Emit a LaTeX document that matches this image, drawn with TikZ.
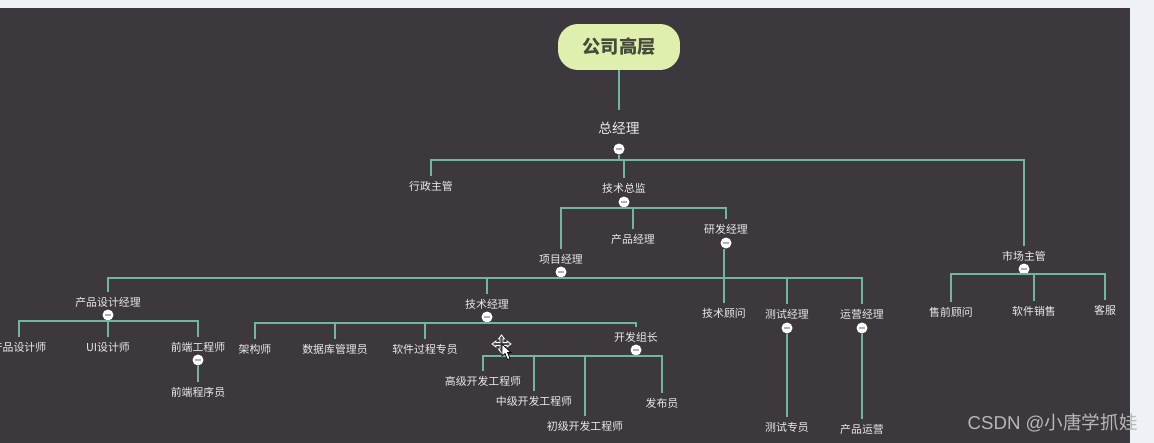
\documentclass[tikz,border=0pt]{standalone}
\usepackage{fontspec}
\setmainfont{Noto Sans CJK SC}
\newfontfamily\markfont{Liberation Sans}
\usetikzlibrary{arrows.meta,positioning}
\definecolor{pagebg}{HTML}{3C383E}
\definecolor{pageedge}{HTML}{EEF2F7}
\definecolor{rootfill}{HTML}{DFF0AE}
\definecolor{roottext}{HTML}{454C3C}
\definecolor{linkcol}{HTML}{71B6A2}
\tikzset{
    post/.style={text=white!92!black,font=\fontsize{6.2pt}{7pt}\selectfont,inner sep=0pt,minimum height=0.4cm},
    toppost/.style={post,font=\fontsize{7.8pt}{9pt}\selectfont,minimum height=0.72cm},
    btn/.style={circle,fill=white,inner sep=0pt,minimum size=0.22cm,
        path picture={\draw[gray!60,line width=0.6pt] ([xshift=0.05cm]path picture bounding box.west) -- ([xshift=-0.05cm]path picture bounding box.east);}},
    link/.style={draw=linkcol,line width=1.2pt},
}

\begin{document}
\begin{tikzpicture}[x=0.02cm,y=-0.02cm]
        \useasboundingbox (0,0) rectangle (1154,443);
        \fill[pageedge] (0,0) rectangle (1154,443);
        \fill[pagebg] (0,8) rectangle (1130,443);

        \node[fill=rootfill,rounded corners=0.4cm,minimum width=2.44cm,minimum height=0.92cm,text=roottext,font=\fontsize{10.4pt}{12pt}\bfseries\selectfont] (root) at (619,47) {公司高层};

        \node[toppost] (zjl) at (619,128) {总经理};
        \node[btn] (zjlbtn) at (619,149) {};

        \node[post] (xzzg) at (431,186) {行政主管};
        \node[post] (jszj) at (624,188) {技术总监};
        \node[btn] (jszjbtn) at (624,202) {};
        \node[post] (sczg) at (1024,256) {市场主管};
        \node[btn] (sczgbtn) at (1024,269) {};

        \node[post] (xmjl) at (561,259) {项目经理};
        \node[btn] (xmjlbtn) at (561,272) {};
        \node[post] (cpjl) at (633,239) {产品经理};
        \node[post] (yfjl) at (726,229) {研发经理};
        \node[btn] (yfjlbtn) at (726,243) {};

        \node[post] (cpsj) at (108,302) {产品设计经理};
        \node[btn] (cpsjbtn) at (108,315) {};
        \node[post] (jsjl) at (487,304) {技术经理};
        \node[btn] (jsjlbtn) at (487,317) {};

        \node[post] (jsgw) at (724,313) {技术顾问};
        \node[post] (csjl) at (787,314) {测试经理};
        \node[btn] (csjlbtn) at (787,328) {};
        \node[post] (yyjl) at (862,314) {运营经理};
        \node[btn] (yyjlbtn) at (862,328) {};
        \node[post] (cszy) at (787,427) {测试专员};
        \node[post] (cpyy) at (862,429) {产品运营};

        \node[post] (cpsjs) at (19,347) {产品设计师};
        \node[post] (uisjs) at (108,347) {UI设计师};
        \node[post] (qdgcs) at (198,347) {前端工程师};
        \node[btn] (qdgcsbtn) at (198,360) {};
        \node[post] (qdcxy) at (198,392) {前端程序员};

        \node[post] (jgs) at (255,349) {架构师};
        \node[post] (sjk) at (335,349) {数据库管理员};
        \node[post] (rjgc) at (425,349) {软件过程专员};
        \node[post] (kfzz) at (636,337) {开发组长};
        \node[btn] (kfzzbtn) at (636,350) {};

        \node[post] (gjkf) at (483,381) {高级开发工程师};
        \node[post] (zjkf) at (534,401) {中级开发工程师};
        \node[post] (cjkf) at (585,426) {初级开发工程师};
        \node[post] (fby) at (662,403) {发布员};

        \node[post] (sqgw) at (951,312) {售前顾问};
        \node[post] (rjxs) at (1034,311) {软件销售};
        \node[post] (kf) at (1105,310) {客服};

        \node[text=white!72!black,font=\fontsize{10.6pt}{12pt}\selectfont,anchor=east,inner sep=0pt] (mark) at (1138,423) {{\markfont CSDN @}小唐学抓娃};

        \draw[link] (root) -- (zjl);

        \draw[link] (zjlbtn) -- ++(0,11) -| (xzzg);
        \draw[link] (zjlbtn) -- ++(0,11) -| (jszj);
        \draw[link] (zjlbtn) -- ++(0,11) -| (sczg);

        \draw[link] (jszjbtn) -- ++(0,6) -| (xmjl);
        \draw[link] (jszjbtn) -- ++(0,6) -| (cpjl);
        \draw[link] (jszjbtn) -- ++(0,6) -| (yfjl);

        \draw[link] (xmjlbtn) -- ++(0,6) -| (cpsj);
        \draw[link] (xmjlbtn) -- ++(0,6) -| (jsjl);
        \draw[link] (xmjlbtn) -- ++(0,6) -| (csjl);
        \draw[link] (xmjlbtn) -- ++(0,6) -| (yyjl);

        \draw[link] (yfjlbtn.south -| jsgw) -- (jsgw);
        \draw[link] (csjlbtn) -- (cszy);
        \draw[link] (yyjlbtn) -- (cpyy);

        \draw[link] (cpsjbtn) -- ++(0,6) -| (cpsjs);
        \draw[link] (cpsjbtn) -- (uisjs);
        \draw[link] (cpsjbtn) -- ++(0,6) -| (qdgcs);
        \draw[link] (qdgcsbtn) -- (qdcxy);

        \draw[link] (jsjlbtn) -- ++(0,6) -| (jgs);
        \draw[link] (jsjlbtn) -- ++(0,6) -| (sjk);
        \draw[link] (jsjlbtn) -- ++(0,6) -| (rjgc);
        \draw[link] (jsjlbtn) -- ++(0,6) -| (kfzz);

        \draw[link] (kfzzbtn) -- ++(0,6) -| (gjkf);
        \draw[link] (kfzzbtn) -- ++(0,6) -| (zjkf);
        \draw[link] (kfzzbtn) -- ++(0,6) -| (cjkf);
        \draw[link] (kfzzbtn) -- ++(0,6) -| (fby);

        \draw[link] (sczgbtn) -- ++(0,5) -| (sqgw);
        \draw[link] (sczgbtn) -- ++(0,5) -| (rjxs);
        \draw[link] (sczgbtn) -- ++(0,5) -| (kf);

        % mouse pointer
        \draw[white,fill=black!70,line width=0.5pt] (501.5,335) -- (504.5,339) -- (503,339) -- (503,342.5) -- (507,342.5) -- (507,341) -- (511,344) -- (507,347) -- (507,345.5) -- (503,345.5) -- (503,349) -- (504.5,349) -- (501.5,353) -- (498.5,349) -- (500,349) -- (500,345.5) -- (496,345.5) -- (496,347) -- (492,344) -- (496,341) -- (496,342.5) -- (500,342.5) -- (500,339) -- (498.5,339) -- cycle;
        \draw[black,fill=white,line width=0.4pt] (502,344) -- (502,356) -- (505,353.5) -- (507.5,359.5) -- (510,358.5) -- (507.5,352.5) -- (511,352.5) -- cycle;
\end{tikzpicture}
\end{document}
